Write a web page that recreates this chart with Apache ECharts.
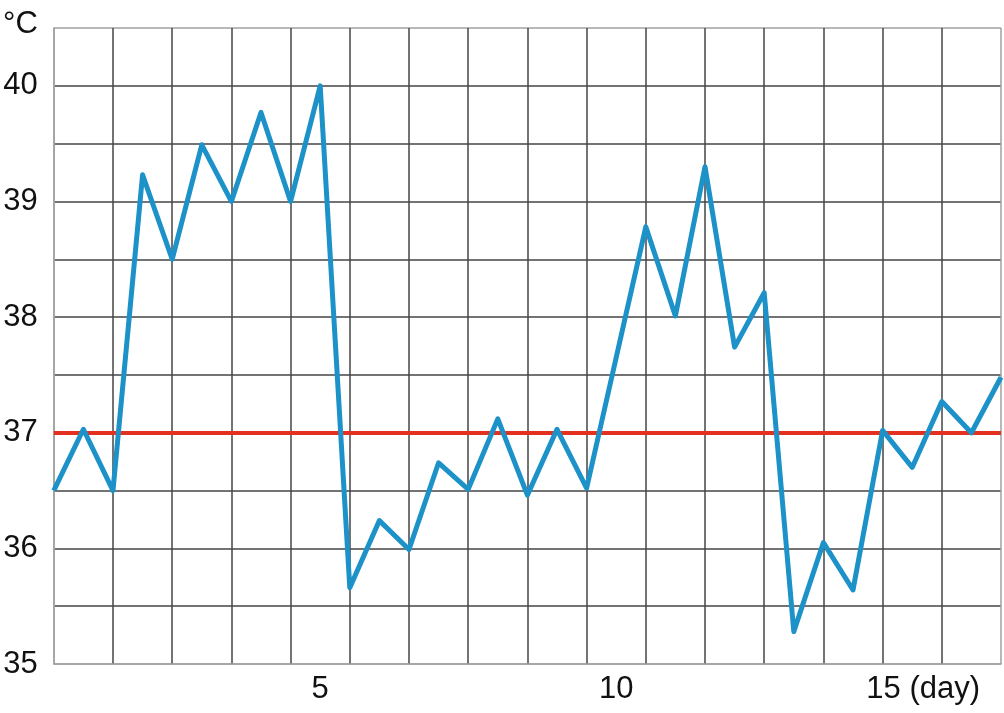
<!DOCTYPE html>
<html>
<head>
<meta charset="utf-8">
<script src="https://cdn.jsdelivr.net/npm/echarts@6/dist/echarts.min.js"></script>
<style>html,body{margin:0;padding:0;background:#fff}#c{width:1004px;height:713px}</style>
</head>
<body>
<div id="c"></div>
<script>
// half-day positions (days 0.5 .. 16.5)
const days = ['0.5','1','1.5','2','2.5','3','3.5','4','4.5','5','5.5','6','6.5','7','7.5','8','8.5','9','9.5','10','10.5','11','11.5','12','12.5','13','13.5','14','14.5','15','15.5','16','16.5'];
const temperature = [36.5,37.03,36.5,39.23,38.5,39.49,39.0,39.77,39.0,40.0,35.66,36.24,35.99,36.74,36.51,37.12,36.46,37.03,36.52,37.65,38.78,38.01,39.3,37.74,38.21,35.28,36.05,35.64,37.02,36.7,37.27,37.0,37.48];
const xTickLabels = {'5':'5','10':'10','15':'15 (day)'};
const yTickLabels = [35,36,37,38,39,40];
const normalTemp = 37;
const yMin = 35, yMax = 40.5, yStep = 0.5;

const FONT = '"Liberation Sans", Arial, Helvetica, sans-serif';
const FS = 31;
const light = '#a0a0a0', dark = '#444444';
const ySplitColors = [];
for (let v = yMin; v <= yMax + 1e-9; v += yStep) ySplitColors.push((v === yMin || Math.abs(v - yMax) < 1e-9) ? light : dark);
const xSplitCount = Math.floor((days.length - 1) / 2) + 1;
const xSplitColors = [];
for (let i = 0; i < xSplitCount; i++) xSplitColors.push((i === 0 || i === xSplitCount - 1) ? light : dark);

const chart = echarts.init(document.getElementById('c'));
chart.setOption({
  animation: false,
  backgroundColor: '#fff',
  grid: {left: 52, right: 3, top: 28, bottom: 49, containLabel: false},
  xAxis: {
    type: 'category',
    data: days,
    boundaryGap: false,
    axisLine: {show: true, lineStyle: {color: light, width: 1.5}},
    axisTick: {show: false},
    axisLabel: {
      interval: (i, v) => xTickLabels[v] !== undefined,
      formatter: v => v === '15' ? '{p|' + xTickLabels[v] + '}' : (xTickLabels[v] || ''),
      color: '#111', fontSize: FS, fontFamily: FONT, margin: 10,
      rich: {p: {fontSize: FS, fontFamily: FONT, color: '#111', padding: [0, 0, 0, 22]}}
    },
    splitLine: {show: true, interval: 1, lineStyle: {color: xSplitColors, width: 1.5}}
  },
  yAxis: {
    type: 'value',
    min: yMin, max: yMax, interval: yStep,
    name: '°C',
    nameLocation: 'end',
    nameGap: 4,
    nameTextStyle: {color: '#111', fontSize: FS, fontFamily: FONT, align: 'right', verticalAlign: 'middle', padding: [0, 16, 0, 0]},
    axisLine: {show: true, lineStyle: {color: light, width: 1.5}},
    axisTick: {show: false},
    axisLabel: {
      formatter: v => yTickLabels.indexOf(v) >= 0 ? String(v) : '',
      color: '#111', fontSize: FS, fontFamily: FONT, margin: 16
    },
    splitLine: {show: true, lineStyle: {color: ySplitColors, width: 1.5}}
  },
  series: [{
    type: 'line',
    data: temperature,
    symbol: 'none',
    z: 5,
    lineStyle: {color: '#1c92c9', width: 5, join: 'round'},
    markLine: {
      silent: true, symbol: 'none', z: 3,
      label: {show: false},
      lineStyle: {color: '#e2321f', width: 4, type: 'solid'},
      data: [{yAxis: normalTemp}]
    }
  }]
});
</script>
</body>
</html>
